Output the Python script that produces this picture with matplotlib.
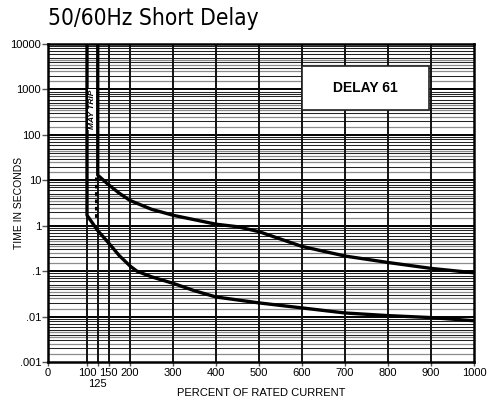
import numpy as np
import matplotlib
matplotlib.use("Agg")
import matplotlib.pyplot as plt
from matplotlib.patches import Rectangle

plt.rcParams['font.family'] = ['Liberation Sans', 'DejaVu Sans']

# curve data (percent of rated current, seconds)
lower_x = [100, 100, 125, 150, 175, 200, 216, 250, 300, 350, 400, 500, 600, 700, 800, 900, 1000]
lower_y = [10000, 1.7, 0.78, 0.42, 0.22, 0.13, 0.1, 0.075, 0.054, 0.037, 0.027, 0.02, 0.0155, 0.012, 0.0105, 0.0095, 0.0081]
upper_x = [125, 125, 150, 175, 200, 250, 300, 400, 450, 500, 600, 700, 800, 900, 1000]
upper_y = [10000, 13, 8, 5.2, 3.6, 2.3, 1.7, 1.08, 0.95, 0.74, 0.35, 0.215, 0.155, 0.115, 0.092]
dash_x = [121, 121]
dash_y = [12, 1.5]

xticks = [0, 100, 125, 150, 200, 300, 400, 500, 600, 700, 800, 900, 1000]
xticklabels = ['0', '100', '125', '150', '200', '300', '400', '500', '600', '700', '800', '900', '1000']
yticks = [0.001, 0.01, 0.1, 1, 10, 100, 1000, 10000]
yticklabels = ['.001', '.01', '.1', '1', '10', '100', '1000', '10000']

# the chart paper is slightly compressed between 0 and 100
bp_data = [0, 100, 1000]
bp_pos = [0, 39, 426]

def fwd(x):
    return np.interp(x, bp_data, bp_pos)

def inv(p):
    return np.interp(p, bp_pos, bp_data)

fig = plt.figure(figsize=(4.87, 4.04), dpi=100)
ax = fig.add_axes([48/487, 1-362/404, 426/487, 318/404])
ax.set_xscale('function', functions=(fwd, inv))
ax.set_yscale('log')
ax.set_xlim(0, 1000)
ax.set_ylim(0.001, 10000)

# log paper grid
for d in range(-3, 4):
    base = 10.0 ** d
    for m in [1.5, 2.5, 3.5, 4.5]:
        ax.axhline(base * m, color='#8c8c8c', lw=0.9, zorder=1)
    for m in range(2, 10):
        ax.axhline(base * m, color='#222222', lw=0.75, zorder=1)
for d in range(-2, 4):
    ax.axhline(10.0 ** d, color='black', lw=1.4, zorder=2)
for x in xticks[1:-1]:
    ax.axvline(x, color='#111111', lw=1.4, zorder=2)

ax.plot(lower_x, lower_y, color='black', lw=2.4, zorder=4, solid_capstyle='butt')
ax.plot(upper_x, upper_y, color='black', lw=2.4, zorder=4, solid_capstyle='butt')
ax.plot(dash_x, dash_y, color='black', lw=2.2, ls=(0, (1.2, 1.2)), zorder=4)

ax.text(112, 360, 'MAY TRIP', rotation=90, ha='center', va='center',
        fontsize=6, fontweight='bold', fontstyle='italic', zorder=5,
        bbox=dict(facecolor='white', edgecolor='none', pad=0.6))

ax.add_patch(Rectangle((600, 360), 295, 3250 - 360, facecolor='white',
                       edgecolor='#222222', lw=1.2, zorder=5))
ax.text(748, 1080, 'DELAY 61', ha='center', va='center', fontsize=10,
        fontweight='bold', zorder=6)

ax.set_xticks(xticks)
ax.set_xticklabels(xticklabels)
ax.set_yticks(yticks)
ax.set_yticklabels(yticklabels)
ax.yaxis.set_minor_locator(matplotlib.ticker.NullLocator())
ax.tick_params(axis='both', labelsize=8, length=4, width=1, pad=1, color='#555555')
ax.tick_params(axis='x', length=3)
# 125 sits on a second row below 100/150
ax.xaxis.get_major_ticks()[2].set_pad(9)

for s in ax.spines.values():
    s.set_linewidth(1.8)
    s.set_zorder(6)

ax.set_ylabel('TIME IN SECONDS', fontsize=7.5)
ax.yaxis.set_label_coords(-24/426, 0.5)
ax.set_xlabel('PERCENT OF RATED CURRENT', fontsize=8, va='top')
ax.xaxis.set_label_coords(0.5, -26/318)

fig.text(48/487, 1-18/404, '50/60Hz Short Delay', ha='left', va='center',
         fontsize=16.3, family='DejaVu Sans', fontstretch='condensed')

fig.savefig('out.png', dpi=100)
